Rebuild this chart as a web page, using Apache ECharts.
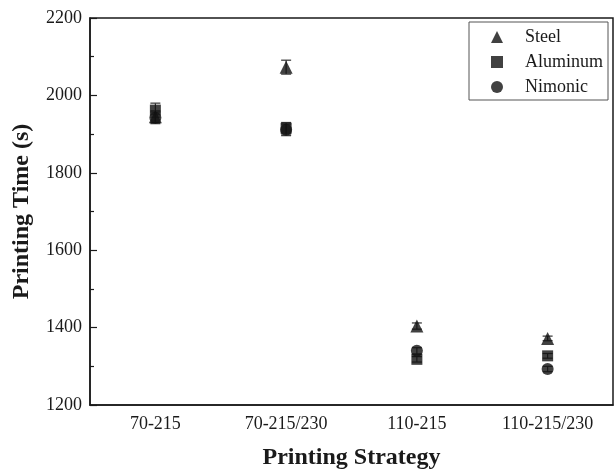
<!DOCTYPE html>
<html><head><meta charset="utf-8">
<script src="https://cdn.jsdelivr.net/npm/echarts@6/dist/echarts.min.js"></script>
<style>html,body{margin:0;padding:0;background:#fff}#c{width:615px;height:469px}</style>
</head><body><div id="c"></div>
<script>
const categories = ['70-215', '70-215/230', '110-215', '110-215/230'];
const steel = [1945, 2073, 1404, 1372];
const steelErr = [15, 18, 8, 6];
const aluminum = [1962, 1915, 1318, 1327];
const aluminumErr = [18, 15, 7, 6];
const nimonic = [1942, 1911, 1340, 1293];
const nimonicErr = [15, 15, 8, 7];
const yTicks = [1200, 1400, 1600, 1800, 2000, 2200];

const font = 'Liberation Serif, Times New Roman, serif';
const ink = '#1a1a1a';

function errData(vals, errs) {
  return vals.map((v, i) => [i, v - errs[i], v + errs[i]]);
}
function errSeries(vals, errs) {
  return {
    type: 'custom',
    z: 1,
    silent: true,
    data: errData(vals, errs),
    renderItem: function (params, api) {
      const x = api.value(0);
      const lo = api.coord([x, api.value(1)]);
      const hi = api.coord([x, api.value(2)]);
      const w = 5;
      const st = { stroke: '#333', lineWidth: 1.2 };
      return {
        type: 'group',
        children: [
          { type: 'line', shape: { x1: lo[0], y1: lo[1], x2: hi[0], y2: hi[1] }, style: st },
          { type: 'line', shape: { x1: lo[0] - w, y1: lo[1], x2: lo[0] + w, y2: lo[1] }, style: st },
          { type: 'line', shape: { x1: hi[0] - w, y1: hi[1], x2: hi[0] + w, y2: hi[1] }, style: st }
        ]
      };
    }
  };
}

const chart = echarts.init(document.getElementById('c'), null, { renderer: 'canvas' });
chart.setOption({
  backgroundColor: '#fff',
  animation: false,
  textStyle: { fontFamily: font },
  grid: { left: 90, right: 2, top: 18, bottom: 64, containLabel: false, outerBoundsMode: 'none', show: true, borderColor: ink, borderWidth: 1.5, backgroundColor: 'transparent' },
  legend: {
    orient: 'vertical',
    left: 469, top: 22,
    padding: [6, 5, 4, 22],
    itemGap: 7,
    itemWidth: 12, itemHeight: 12,
    borderColor: '#555', borderWidth: 1,
    textStyle: { fontFamily: font, fontSize: 18, color: ink, padding: [0, 0, 0, 17] },
    data: [
      { name: 'Steel', icon: 'triangle' },
      { name: 'Aluminum', icon: 'rect' },
      { name: 'Nimonic', icon: 'circle' }
    ]
  },
  xAxis: [{
    type: 'category',
    data: categories,
    boundaryGap: true,
    name: 'Printing Strategy',
    nameLocation: 'middle',
    nameGap: 41,
    nameTextStyle: { fontFamily: font, fontSize: 24, fontWeight: 'bold', color: ink },
    axisLine: { lineStyle: { color: ink, width: 1.5 } },
    axisTick: { alignWithLabel: true, inside: true, length: 7, lineStyle: { color: ink, width: 1.2 } },
    axisLabel: { fontFamily: font, fontSize: 18, color: ink, margin: 10 },
    splitLine: { show: false }
  }, {
    type: 'category',
    data: categories,
    position: 'bottom',
    boundaryGap: true,
    axisLine: { show: false },
    axisTick: { inside: true, length: 4, lineStyle: { color: ink, width: 1.2 } },
    axisLabel: { show: false },
    splitLine: { show: false }
  }],
  yAxis: {
    type: 'value',
    min: yTicks[0], max: yTicks[yTicks.length - 1], interval: 200,
    name: 'Printing Time (s)',
    nameLocation: 'middle',
    nameGap: 56,
    nameTextStyle: { fontFamily: font, fontSize: 24, fontWeight: 'bold', color: ink },
    axisLine: { show: true, lineStyle: { color: ink, width: 1.5 } },
    axisTick: { show: true, inside: true, length: 7, lineStyle: { color: ink, width: 1.2 } },
    minorTick: { show: true, splitNumber: 2, length: 4, lineStyle: { color: ink, width: 1.2 } },
    axisLabel: { fontFamily: font, fontSize: 18, color: ink, margin: 8, formatter: v => String(v) },
    splitLine: { show: false }
  },
  series: [
    errSeries(steel, steelErr),
    errSeries(aluminum, aluminumErr),
    errSeries(nimonic, nimonicErr),
    { name: 'Steel', type: 'scatter', symbol: 'triangle', symbolSize: 13, z: 3, itemStyle: { color: '#111' }, data: steel },
    { name: 'Aluminum', type: 'scatter', symbol: 'rect', symbolSize: 11, z: 3, itemStyle: { color: '#111' }, data: aluminum },
    { name: 'Nimonic', type: 'scatter', symbol: 'circle', symbolSize: 12, z: 3, itemStyle: { color: '#111' }, data: nimonic }
  ]
});
</script>
</body></html>
